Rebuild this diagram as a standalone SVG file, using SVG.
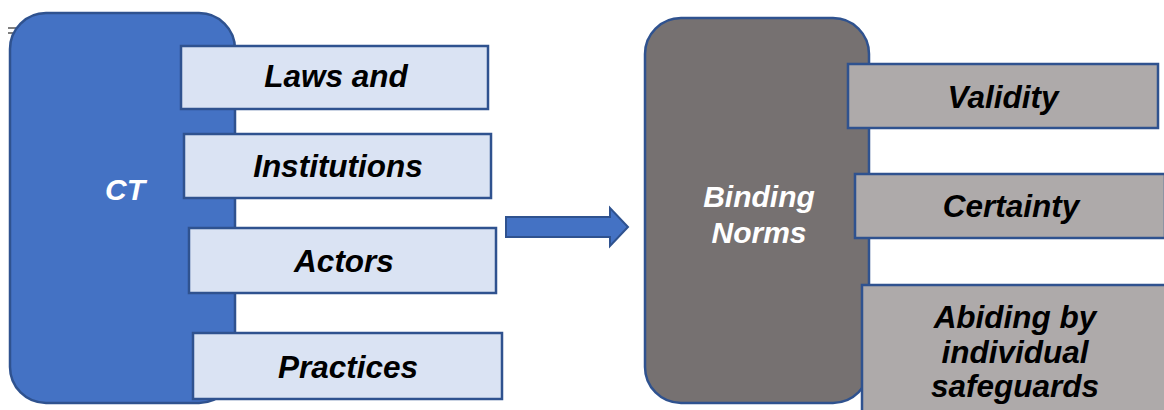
<svg xmlns="http://www.w3.org/2000/svg" width="1164" height="410" viewBox="0 0 1164 410">
<style>
.big{stroke:#2F528F;stroke-width:2.5}
.lbox{fill:#DAE3F3;stroke:#2F528F;stroke-width:2.5}
.gbox{fill:#AEAAAA;stroke:#2F528F;stroke-width:2.5}
text{font-family:"Liberation Sans",Arial,sans-serif;font-weight:bold;font-style:italic;text-anchor:middle}
.w{fill:#FFFFFF;font-size:30px}
.b{fill:#000000;font-size:31.5px}
</style>
<rect width="1164" height="410" fill="#FFFFFF"/>
<g id="mark"><line x1="8" y1="28" x2="18" y2="28" stroke="#000" stroke-width="1"/><line x1="8" y1="33" x2="16" y2="33" stroke="#000" stroke-width="1"/></g>
<g id="ct"><rect class="big" x="10" y="13" width="225" height="390" rx="36" fill="#4472C4"/><text class="w" x="125" y="200">CT</text></g>
<g id="laws"><rect class="lbox" x="181" y="46" width="307" height="63"/><text class="b" x="336" y="87">Laws and</text></g>
<g id="institutions"><rect class="lbox" x="184" y="134" width="307" height="64"/><text class="b" x="338" y="177">Institutions</text></g>
<g id="actors"><rect class="lbox" x="189" y="228" width="307" height="65"/><text class="b" x="344" y="272">Actors</text></g>
<g id="practices"><rect class="lbox" x="193" y="333" width="309" height="66"/><text class="b" x="348" y="378">Practices</text></g>
<g id="connectors"><path d="M506,217 L610,217 L610,208 L628,227 L610,246 L610,237 L506,237 Z" fill="#4472C4" stroke="#2F528F" stroke-width="2"/></g>
<g id="binding"><rect class="big" x="645" y="18" width="224" height="385" rx="36" fill="#767171"/><text class="w" x="759" y="207">Binding</text><text class="w" x="759" y="243">Norms</text></g>
<g id="validity"><rect class="gbox" x="848" y="64" width="310" height="64"/><text class="b" x="1003" y="108">Validity</text></g>
<g id="certainty"><rect class="gbox" x="855" y="174" width="310" height="64"/><text class="b" x="1011" y="217">Certainty</text></g>
<g id="abiding"><rect class="gbox" x="862" y="285" width="310" height="130"/><text class="b" x="1015" y="328">Abiding by</text><text class="b" x="1015" y="363">individual</text><text class="b" x="1015" y="397">safeguards</text></g>
</svg>
